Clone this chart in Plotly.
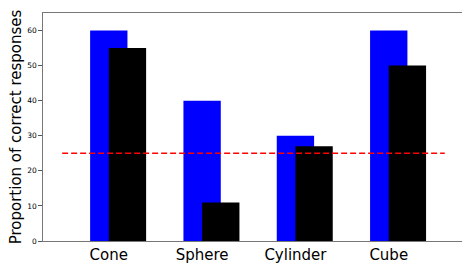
import plotly.graph_objects as go

categories = ["Cone", "Sphere", "Cylinder", "Cube"]
blue_values = [60, 40, 30, 60]
black_values = [55, 11, 27, 50]
chance_level = 25
y_ticks = [0, 10, 20, 30, 40, 50, 60]

positions = list(range(len(categories)))
bar_w = 0.4

fig = go.Figure()
fig.add_trace(go.Bar(x=positions, y=blue_values, width=bar_w, offset=-bar_w / 2,
                     marker=dict(color="#0000ff", line=dict(width=0)), showlegend=False))
fig.add_trace(go.Bar(x=positions, y=black_values, width=bar_w, offset=0,
                     marker=dict(color="#000000", line=dict(width=0)), showlegend=False))
fig.add_trace(go.Scatter(x=[positions[0] - 0.5, positions[-1] + 0.6], y=[chance_level, chance_level],
                         mode="lines", line=dict(color="#ff0000", width=1.5, dash="6px,3px"),
                         showlegend=False, hoverinfo="skip"))

fig.update_layout(
    width=462, height=265,
    margin=dict(l=43, r=0, t=13, b=24),
    paper_bgcolor="white", plot_bgcolor="white",
    barmode="overlay",
    font=dict(family="DejaVu Sans", color="black"),
    xaxis=dict(range=[-0.705, 3.785], tickvals=positions, ticktext=categories,
               tickfont=dict(size=15), ticks="", showgrid=False, zeroline=False,
               automargin=False,
               showline=True, linecolor="#777777", linewidth=1.3, mirror=True),
    yaxis=dict(range=[0, 65], tickvals=y_ticks, tickfont=dict(size=7.5),
               ticks="outside", ticklen=3.5, tickcolor="#555555", tickwidth=1,
               showgrid=False, zeroline=False, automargin=False,
               showline=True, linecolor="#777777", linewidth=1.3,
               title=dict(text="Proportion of correct responses", font=dict(size=15), standoff=2)),
)

fig.write_html("out.html", config={"displayModeBar": False},
               post_script="document.body.style.margin='0';document.body.style.overflow='hidden';")
